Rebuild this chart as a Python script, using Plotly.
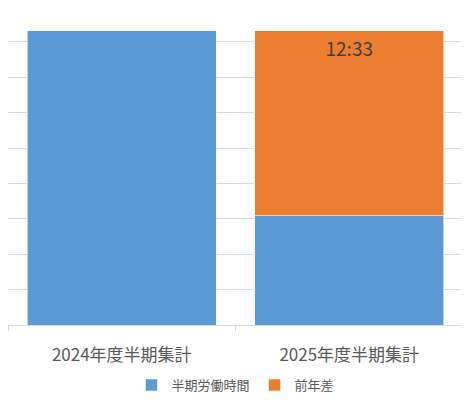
import plotly.graph_objects as go

categories = ["2024年度半期集計", "2025年度半期集計"]
series_names = ["半期労働時間", "前年差"]
work_hours = [19.95, 7.42]      # hours
diff_hours = [None, 12.55]      # hours (12:33)
diff_labels = ["", "12:33"]

font_family = "Noto Sans CJK JP, Noto Sans, sans-serif"

fig = go.Figure()
fig.add_trace(go.Bar(
    x=categories, y=work_hours, name=series_names[0],
    marker=dict(color="#5B9BD5", line=dict(color="rgba(255,255,255,0.6)", width=1)),
    hoverinfo="skip",
))
fig.add_trace(go.Bar(
    x=categories, y=diff_hours, name=series_names[1],
    marker=dict(color="#ED7D31", line=dict(color="rgba(255,255,255,0.6)", width=1)),
    text=diff_labels, textposition="inside", insidetextanchor="end",
    textfont=dict(size=19, color="#404040", family=font_family),
    textangle=0, hoverinfo="skip",
))

# page body has an 8px margin, so the figure is sized to fill the rest of the window
fig.update_layout(
    width=461, height=392,
    barmode="stack", bargap=0.17,
    margin=dict(l=0, r=6, t=0, b=74),
    paper_bgcolor="white", plot_bgcolor="white",
    font=dict(family=font_family, color="#595959"),
    showlegend=True,
    legend=dict(orientation="h", x=0.5, xanchor="center", y=-0.19, yanchor="middle",
                font=dict(size=13, color="#595959"), itemwidth=30,
                traceorder="normal"),
    xaxis=dict(
        showgrid=False, showline=True, linecolor="#D9D9D9", linewidth=1,
        ticks="outside", tickson="boundaries", ticklen=5, tickcolor="#D9D9D9",
        tickfont=dict(size=17, color="#595959"), ticklabelstandoff=15,
    ),
    yaxis=dict(
        range=[0, 21.5], dtick=2.4, tick0=0,
        showgrid=True, gridcolor="#D9D9D9", gridwidth=1,
        showticklabels=False, zeroline=False, showline=False, ticks="",
    ),
)

fig.write_html("out.html")
